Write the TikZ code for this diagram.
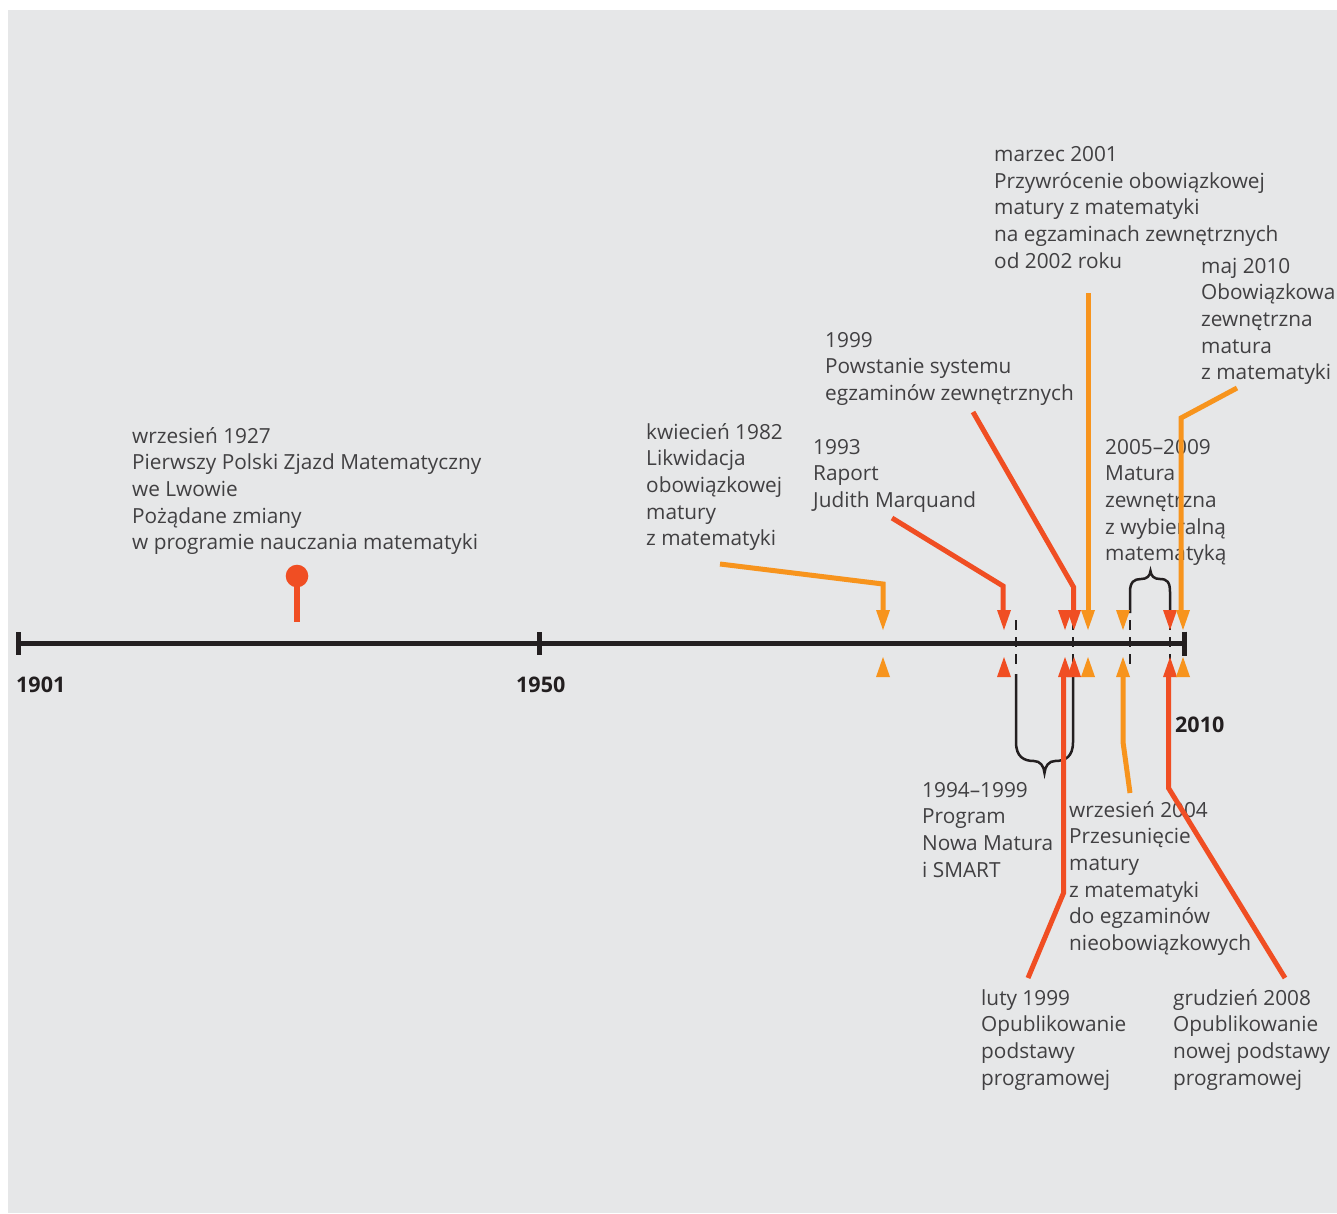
\documentclass[tikz,border=0pt]{standalone}
\usepackage{fontspec}
\setmainfont{Open Sans}
\definecolor{bg}{HTML}{E6E7E8}
\definecolor{evorange}{HTML}{F7941D}
\definecolor{evred}{HTML}{F04E23}
\definecolor{txt}{HTML}{414042}
\definecolor{axisc}{HTML}{231F20}
\newcommand{\blk}[1]{\begin{tabular}[t]{@{}l@{}}#1\end{tabular}}
\begin{document}
\begin{tikzpicture}[x=1pt,y=-1pt,
  lbl/.style={anchor=base west, inner sep=0pt, text=txt, font=\fontsize{20.8}{26.67}\selectfont},
  yearlbl/.style={anchor=base west, inner sep=0pt, text=axisc, font=\fontsize{21.5}{24}\selectfont\bfseries},
  conn/.style={line width=5pt, line join=miter},
  axisline/.style={line width=5pt, axisc},
  dashmark/.style={line width=2.5pt, axisc, dash pattern=on 10pt off 7pt},
  bracket/.style={line width=2.5pt, axisc},
  downtri/.pic={\fill (-7,0) -- (7,0) -- (0,20) -- cycle;},
  uptri/.pic={\fill (-7,0) -- (7,0) -- (0,-20) -- cycle;}
]
\useasboundingbox (0,0) rectangle (1337,1213);
\fill[white] (0,0) rectangle (1337,1213);
\fill[bg] (8,10) rectangle (1337,1213);

% ---------- texts ----------
\node[lbl] (t1927) at (132,443) {\blk{wrzesień 1927\\Pierwszy Polski Zjazd Matematyczny\\we Lwowie\\Pożądane zmiany\\w programie nauczania matematyki}};
\node[lbl] (t1982) at (646,439) {\blk{kwiecień 1982\\Likwidacja\\obowiązkowej\\matury\\z matematyki}};
\node[lbl] (t1993) at (813,454) {\blk{1993\\Raport\\Judith Marquand}};
\node[lbl] (t1999) at (825,347) {\blk{1999\\Powstanie systemu\\egzaminów zewnętrznych}};
\node[lbl] (t2001) at (994,161.5) {\blk{marzec 2001\\Przywrócenie obowiązkowej\\matury z matematyki\\na egzaminach zewnętrznych\\od 2002 roku}};
\node[lbl] (t2010) at (1201,273) {\blk{maj 2010\\Obowiązkowa\\zewnętrzna\\matura\\z matematyki}};
\node[lbl] (t0509) at (1105,454) {\blk{2005–2009\\Matura\\zewnętrzna\\z wybieralną\\matematyką}};
\node[lbl] (t9499) at (922,797) {\blk{1994–1999\\Program\\Nowa Matura\\i SMART}};
\node[lbl] (t2004) at (1069,817) {\blk{wrzesień 2004\\Przesunięcie\\matury\\z matematyki\\do egzaminów\\nieobowiązkowych}};
\node[lbl] (tluty) at (981,1005) {\blk{luty 1999\\Opublikowanie\\podstawy\\programowej}};
\node[lbl] (t2008) at (1173,1005) {\blk{grudzień 2008\\Opublikowanie\\nowej podstawy\\programowej}};

\node[yearlbl] (y1901) at (16,692) {1901};
\node[yearlbl] (y1950) at (516,692) {1950};
\node[yearlbl] (y2010) at (1175,732) {2010};

% ---------- axis ----------
\coordinate (a0) at (18,643);
\coordinate (a1) at (1184,643);
\draw[axisline] (a0) -- (a1);
\draw[axisline] (18,632) -- (18,655);
\draw[axisline] (539,632) -- (539,655);
\draw[axisline] (1184,631.5) -- (1184,655.5);

% ---------- dashed period marks ----------
\draw[dashmark] (1016,620) -- (1016,671);
\draw[dashmark] (1073,620) -- (1073,677);
\draw[dashmark] (1130,620) -- (1130,667);
\draw[dashmark] (1170,620) -- (1170,667);

% ---------- braces ----------
\draw[bracket] (1016,674) -- (1016,742)
  .. controls (1016,757) and (1024,761) .. (1034,761)
  .. controls (1040,761) and (1044,766) .. (1044.5,773)
  .. controls (1045,766) and (1049,761) .. (1055,761)
  .. controls (1065,761) and (1073,757) .. (1073,742) -- (1073,677);
\draw[bracket] (1130,613) -- (1130,592)
  .. controls (1130,582) and (1134,579) .. (1141,579)
  .. controls (1147,579) and (1150,576) .. (1150.5,571)
  .. controls (1151,576) and (1154,579) .. (1160,579)
  .. controls (1167,579) and (1170,582) .. (1170,592) -- (1170,610);

% ---------- 1927 pin ----------
\coordinate (p1927) at (297,576);
\coordinate (q1927) at (297,621.5);
\draw[evred, line width=6pt] (p1927) -- (q1927);
\fill[evred] (p1927) circle (11.3);

% ---------- connectors ----------
\coordinate (s1982) at (720,564);  \coordinate (b1982) at (883,584);  \coordinate (d1982) at (883,610);
\coordinate (s1993) at (892,518);  \coordinate (b1993) at (1003,586); \coordinate (d1993) at (1003,610);
\coordinate (s1999) at (973,412);  \coordinate (b1999) at (1073.5,587); \coordinate (d1999) at (1073.5,610);
\coordinate (s2001) at (1088.5,293); \coordinate (d2001) at (1088.5,610);
\coordinate (s2010) at (1237,388); \coordinate (b2010) at (1181,418); \coordinate (d2010) at (1181,610);
\coordinate (sluty) at (1028,978); \coordinate (bluty) at (1063.5,893); \coordinate (uluty) at (1063.5,677);
\coordinate (s2004) at (1130,793); \coordinate (b2004) at (1123,742); \coordinate (u2004) at (1123,677);
\coordinate (s2008) at (1285,978); \coordinate (b2008) at (1168.5,788); \coordinate (u2008) at (1168.5,677);

\draw[conn, evorange] (s1982) -- (b1982) -- (d1982);
\draw[conn, evred] (s1993) -- (b1993) -- (d1993);
\draw[conn, evred] (s1999) -- (b1999) -- (d1999);
\draw[conn, evorange] (s2001) -- (d2001);
\draw[conn, evorange] (s2010) -- (b2010) -- (d2010);
\draw[conn, evred] (sluty) -- (bluty) -- (uluty);
\draw[conn, evorange] (s2004) -- (b2004) -- (u2004);
\draw[conn, evred] (s2008) -- (b2008) -- (u2008);

% ---------- arrowheads ----------
\pic[evorange] at (883,610) {downtri};   \pic[evorange] at (883,677) {uptri};
\pic[evred] at (1004,610) {downtri};     \pic[evred] at (1004,677) {uptri};
\pic[evred] at (1065,610) {downtri};     \pic[evred] at (1065,677) {uptri};
\pic[evred] at (1074,610) {downtri};     \pic[evred] at (1074,677) {uptri};
\pic[evorange] at (1088,610) {downtri};  \pic[evorange] at (1088,677) {uptri};
\pic[evorange] at (1123,610) {downtri};  \pic[evorange] at (1123,677) {uptri};
\pic[evred] at (1170,610) {downtri};     \pic[evred] at (1170,677) {uptri};
\pic[evorange] at (1183,610) {downtri};  \pic[evorange] at (1183,677) {uptri};
\end{tikzpicture}
\end{document}
